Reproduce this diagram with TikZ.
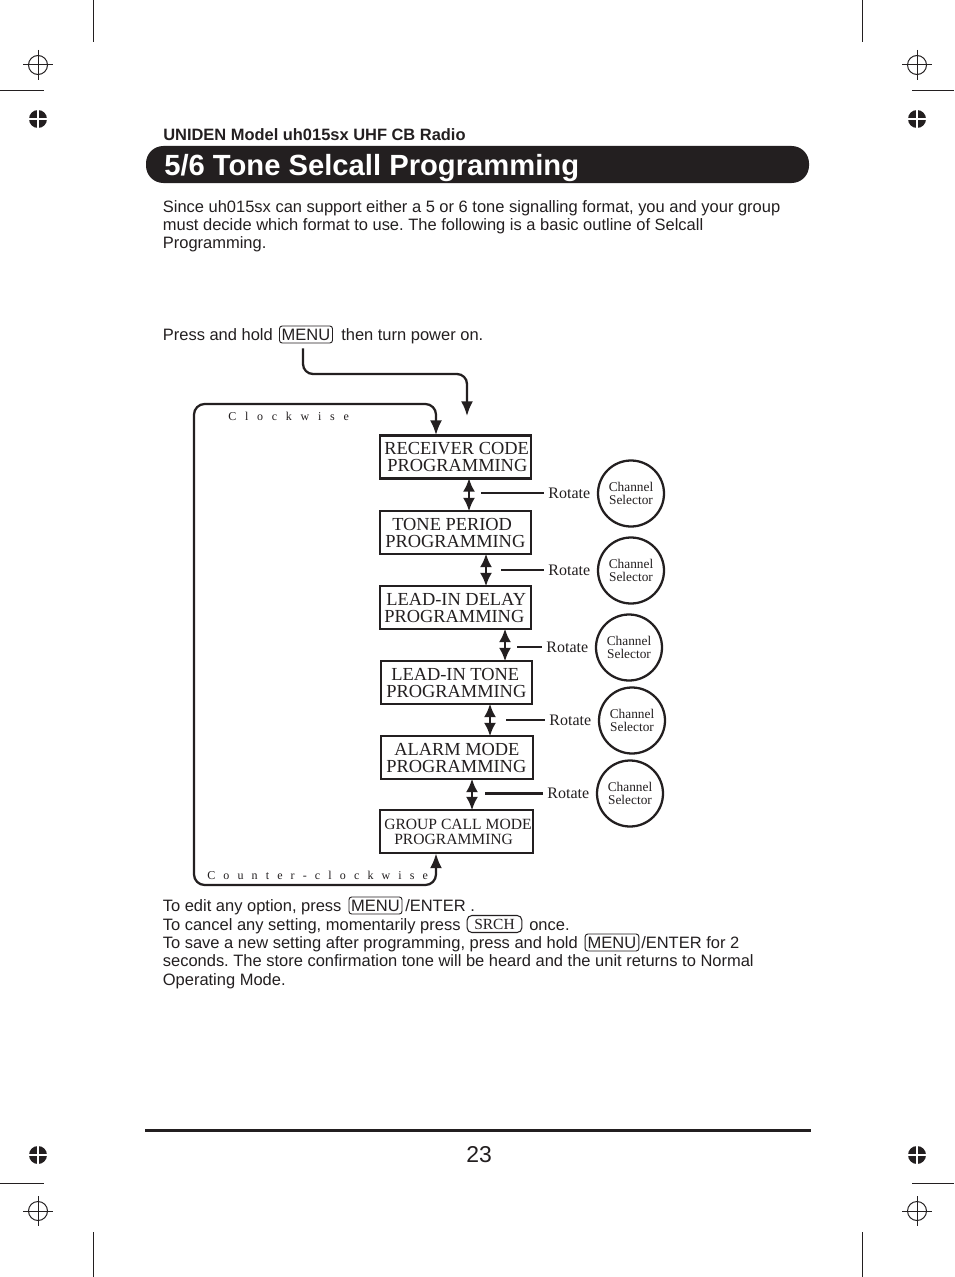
\documentclass[tikz,border=0pt]{standalone}
\usepackage{fontspec}
\setmainfont{Liberation Sans}
\newfontfamily\serifface{Liberation Serif}
\usetikzlibrary{arrows.meta}
\definecolor{inkblack}{HTML}{231F20}
\newcommand{\regmark}[2]{%
  \draw[markline] (#1,#2) circle (9.5);
  \draw[markline] (#1-15,#2) -- (#1+15,#2) (#1,#2-15) -- (#1,#2+15);}
\newcommand{\regdot}[2]{%
  \fill[inkblack] (#1,#2) circle (9);
  \draw[white,line width=0.9pt] (#1-9.5,#2) -- (#1+9.5,#2) (#1,#2-9.5) -- (#1,#2+9.5);}
\tikzset{
  x=0.75pt,y=-0.75pt,
  markline/.style={inkblack,line width=0.75pt},
  body/.style={inner sep=0pt,anchor=base west,text=inkblack,font=\frenchspacing\fontsize{12.36}{14}\selectfont},
  keybox/.style={draw=inkblack,line width=0.7pt,rounded corners=2pt,inner sep=0pt,text=inkblack,
    minimum height=12.75pt,font=\fontsize{12.36}{14}\selectfont},
  srchbox/.style={keybox,line width=0.8pt,rounded corners=3.5pt,font=\serifface\fontsize{11.6}{13}\selectfont},
  flowbox/.style={draw=inkblack,line width=1.7pt,inner sep=0pt,minimum height=32.25pt},
  boxtext/.style={inner sep=0pt,anchor=base west,text=inkblack,font=\serifface\fontsize{13.8}{16}\selectfont},
  smallboxtext/.style={boxtext,font=\serifface\fontsize{11.7}{14}\selectfont},
  dial/.style={draw=inkblack,line width=1.7pt,circle,minimum size=49.5pt,inner sep=0pt,align=center,
    text=inkblack,font=\serifface\fontsize{10}{9.8}\selectfont},
  rot/.style={inner xsep=3.5pt,inner ysep=0pt,anchor=west,text=inkblack,font=\serifface\fontsize{12}{13}\selectfont},
  link/.style={draw=inkblack,line width=1.6pt},
  dbl/.style={draw=inkblack,line width=1.7pt,shorten <=-1pt,shorten >=-1pt,{Latex[length=10pt,width=9pt]}-{Latex[length=10pt,width=9pt]}},
  flow/.style={draw=inkblack,line width=1.7pt,rounded corners=7.5pt,-{Latex[length=11pt,width=9pt]}},
  loop/.style={draw=inkblack,line width=1.7pt,rounded corners=8pt,shorten <=-0.5pt,shorten >=-0.5pt,{Latex[length=11pt,width=9pt]}-{Latex[length=11pt,width=9pt]}},
  spaced/.style={inner sep=0pt,anchor=base west,text=inkblack,font=\serifface\fontsize{9}{10}\selectfont},
}
\begin{document}
\begin{tikzpicture}
\useasboundingbox (0,0) rectangle (954,1277);
\fill[white] (0,0) rectangle (954,1277);
% crop marks
\draw[markline] (93,0) -- (93,42) (0,91) -- (44,91) (862,0) -- (862,42) (912,91) -- (954,91);
\draw[markline] (93,1232) -- (93,1277) (0,1183) -- (44,1183) (862,1232) -- (862,1277) (912,1183) -- (954,1183);
\regmark{38}{65}\regmark{917}{65}\regmark{38}{1211}\regmark{917}{1211}
\regdot{38}{119}\regdot{917}{119}\regdot{38}{1155}\regdot{917}{1155}
% header
\node[body,font=\bfseries\fontsize{12.33}{14}\selectfont] (head) at (163,140.5) {UNIDEN Model uh015sx UHF CB Radio};
\fill[inkblack,rounded corners=13pt] (146,146) rectangle (809,183);
\node[inner sep=0pt,anchor=base west,text=white,font=\bfseries\fontsize{21.9}{24}\selectfont] (title) at (164,175.5) {5/6 Tone Selcall Programming};
\node[body] (p1) at (162.6,212) {Since uh015sx can support either a 5 or 6 tone signalling format, you and your group};
\node[body] (p2) at (162.6,230) {must decide which format to use. The following is a basic outline of Selcall};
\node[body] (p3) at (162.6,248) {Programming.};
% press and hold
\node[body] (ph) at (162.6,340) {Press and hold};
\node[keybox,minimum width=39.75pt] (m1) at (306,334.5) {MENU};
\node[body] (ph2) at (341,340) {then turn power on.};
% flow boxes
\node[flowbox,minimum width=113pt] (rc) at (455.5,457) {};
\node[flowbox,minimum width=113pt] (tp) at (455.5,532.5) {};
\node[flowbox,minimum width=113pt] (ld) at (455.5,607.5) {};
\node[flowbox,minimum width=113pt] (lt) at (456.5,682.5) {};
\node[flowbox,minimum width=114pt] (am) at (457,757.5) {};
\node[flowbox,minimum width=114.5pt] (gc) at (456.5,831.5) {};
\node[boxtext] (rc1) at (384,454.5) {RECEIVER CODE};
\node[boxtext] (rc2) at (387,471.5) {PROGRAMMING};
\node[boxtext] (tp1) at (392,530) {TONE PERIOD};
\node[boxtext] (tp2) at (385,547) {PROGRAMMING};
\node[boxtext] (ld1) at (386,605) {LEAD-IN DELAY};
\node[boxtext] (ld2) at (384,622) {PROGRAMMING};
\node[boxtext] (lt1) at (391,680) {LEAD-IN TONE};
\node[boxtext] (lt2) at (386,697) {PROGRAMMING};
\node[boxtext] (am1) at (394,755) {ALARM MODE};
\node[boxtext] (am2) at (386,772) {PROGRAMMING};
\node[smallboxtext] (gc1) at (384,829.5) {GROUP CALL MODE};
\node[smallboxtext] (gc2) at (394,844) {PROGRAMMING};
% dials
\node[dial] (d1) at (631,493.5) {Channel\\Selector};
\node[dial] (d2) at (631,570.5) {Channel\\Selector};
\node[dial] (d3) at (629,647.5) {Channel\\Selector};
\node[dial] (d4) at (632,720.5) {Channel\\Selector};
\node[dial] (d5) at (630,793.5) {Channel\\Selector};
% rotate labels
\node[rot] (r1) at (543.5,493) {Rotate};
\node[rot] (r2) at (543.5,570) {Rotate};
\node[rot] (r3) at (541.5,647) {Rotate};
\node[rot] (r4) at (544.5,720) {Rotate};
\node[rot] (r5) at (542.5,793.5) {Rotate};
\coordinate (s1) at (481,493);
\coordinate (s2) at (501,570);
\coordinate (s3) at (517,647);
\coordinate (s4) at (506,720);
\coordinate (s5) at (485,793.5);
\draw[link] (s1) -- (r1.west);
\draw[link] (s2) -- (r2.west);
\draw[link] (s3) -- (r3.west);
\draw[link] (s4) -- (r4.west);
\draw[link] (s5) -- (r5.west);
% double arrows
\coordinate (a1) at (469,0);
\coordinate (a2) at (486,0);
\coordinate (a3) at (505,0);
\coordinate (a4) at (490,0);
\coordinate (a5) at (472,0);
\draw[dbl] (rc.south -| a1) -- (tp.north -| a1);
\draw[dbl] (tp.south -| a2) -- (ld.north -| a2);
\draw[dbl] (ld.south -| a3) -- (lt.north -| a3);
\draw[dbl] (lt.south -| a4) -- (am.north -| a4);
\draw[dbl] (am.south -| a5) -- (gc.north -| a5);
% entry arrow
\coordinate (entry) at (467,416);
\draw[flow] (m1.south -| 303,0) ++(0,5) -- (303,374) -- (467,374) -- (entry);
% loop
\coordinate (lp) at (436,0);
\draw[loop] (rc.north -| lp) -- (436,404) -- (194,404) -- (194,885) -- (436,885) -- (gc.south -| lp);
\node[spaced] (cw) at (228,420) {\spaceskip=6.56pt C l o c k w i s e};
\node[spaced] (ccw) at (207,879) {\spaceskip=6.1pt C o u n t e r - c l o c k w i s e};
% lower text
\node[body] (t1) at (162.6,911) {To edit any option, press};
\node[keybox,minimum width=39.75pt] (m2) at (375.5,905.5) {MENU};
\node[body] (t1b) at (405,911) {/ENTER .};
\node[body] (t2) at (162.6,930) {To cancel any setting, momentarily press};
\node[srchbox,minimum width=41pt] (sr) at (494.5,924) {SRCH};
\node[body] (t2b) at (529,930) {once.};
\node[body] (t3) at (162.6,948) {To save a new setting after programming, press and hold};
\node[keybox,minimum width=40.25pt] (m3) at (612,942.5) {MENU};
\node[body] (t3b) at (641,948) {/ENTER for 2};
\node[body] (t4) at (162.6,966) {seconds. The store confirmation tone will be heard and the unit returns to Normal};
\node[body] (t5) at (162.6,985) {Operating Mode.};
% footer
\draw[inkblack,line width=2.25pt] (145,1130) -- (811,1130);
\node[inner sep=0pt,anchor=base,text=inkblack,font=\fontsize{17.2}{20}\selectfont] (pg) at (479,1162) {23};
\end{tikzpicture}
\end{document}
